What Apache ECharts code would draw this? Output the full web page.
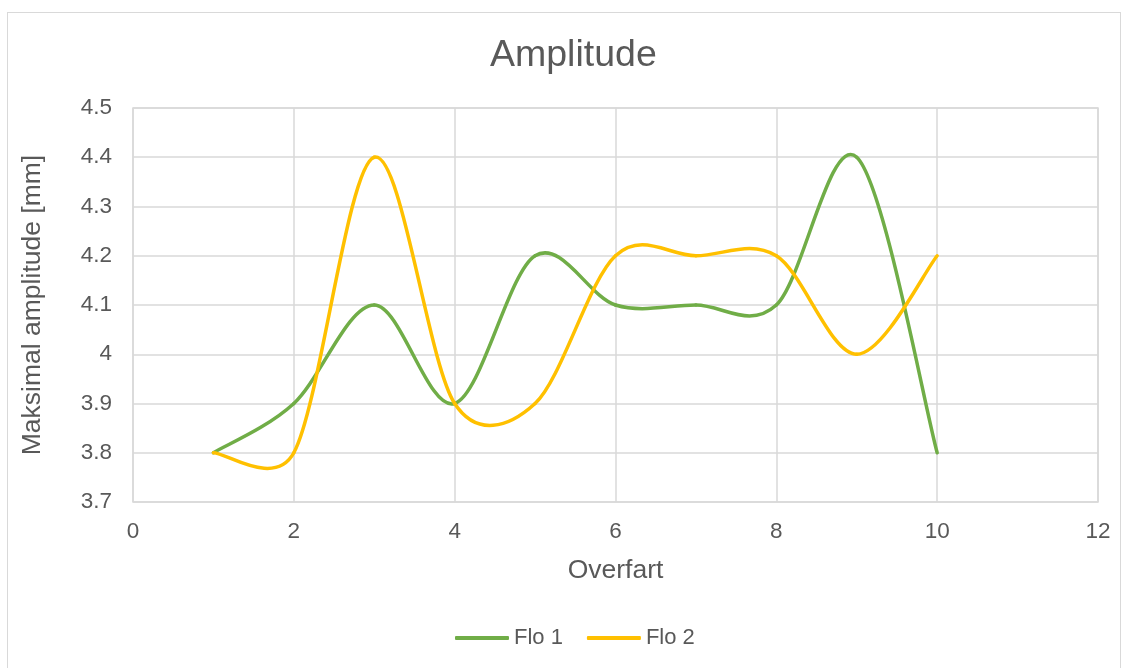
<!DOCTYPE html>
<html>
<head>
<meta charset="utf-8">
<script src="https://cdn.jsdelivr.net/npm/echarts@6/dist/echarts.min.js"></script>
<style>
  html, body { margin: 0; padding: 0; background: #fff; }
  #frame { position: absolute; left: 7px; top: 12px; width: 1114px; height: 670px; border: 1px solid #d9d9d9; box-sizing: border-box; }
  #chart { position: absolute; left: 0; top: 0; width: 1130px; height: 668px; }
</style>
</head>
<body>
<div id="frame"></div>
<div id="chart"></div>
<script>
// Maximum amplitude per crossing for the two runs
const overfart = [1, 2, 3, 4, 5, 6, 7, 8, 9, 10];
const flo1 = [3.8, 3.9, 4.1, 3.9, 4.2, 4.1, 4.1, 4.1, 4.4, 3.8];
const flo2 = [3.8, 3.8, 4.4, 3.9, 3.9, 4.2, 4.2, 4.2, 4.0, 4.2];
const seriesNames = ['Flo 1', 'Flo 2'];
const seriesColors = ['#70ad47', '#ffc000'];

const pairs = (xs, ys) => xs.map((x, i) => [x, ys[i]]);

// Smoothed line: each item draws the cubic segment from point i to i+1.
// Tangents follow the neighbouring points (1/6 of the chord), but are capped
// at half the segment length so short segments do not overshoot too far.
function smoothSegment(xs, ys, color) {
  const dist = (a, b) => Math.hypot(b[0] - a[0], b[1] - a[1]);
  return function (params, api) {
    const i = params.dataIndex;
    const n = xs.length;
    if (i >= n - 1) return null;
    const pt = k => {
      const j = Math.max(0, Math.min(n - 1, k));
      return api.coord([xs[j], ys[j]]);
    };
    const p0 = pt(i - 1), p1 = pt(i), p2 = pt(i + 1), p3 = pt(i + 2);
    const d12 = dist(p1, p2), d02 = dist(p0, p2), d13 = dist(p1, p3);
    let f1 = 1 / 6, f2 = 1 / 6;
    if (d02 / 6 > d12 / 2) f1 = d12 / (2 * d02);
    if (d13 / 6 > d12 / 2) f2 = d12 / (2 * d13);
    return {
      type: 'bezierCurve',
      shape: {
        x1: p1[0], y1: p1[1],
        cpx1: p1[0] + (p2[0] - p0[0]) * f1, cpy1: p1[1] + (p2[1] - p0[1]) * f1,
        cpx2: p2[0] - (p3[0] - p1[0]) * f2, cpy2: p2[1] - (p3[1] - p1[1]) * f2,
        x2: p2[0], y2: p2[1]
      },
      style: { stroke: color, lineWidth: 3.5, fill: null, lineCap: 'round' }
    };
  };
}

const chart = echarts.init(document.getElementById('chart'));
const textColor = '#595959';
const gridColor = '#d9d9d9';
const font = 'Arial, "Liberation Sans", sans-serif';

chart.setOption({
  animation: false,
  backgroundColor: 'transparent',
  title: {
    text: 'Amplitude',
    left: 485,
    top: 32,
    textStyle: { color: textColor, fontSize: 37.5, fontWeight: 'normal', fontFamily: font }
  },
  legend: {
    top: 622,
    left: 450,
    itemWidth: 54,
    itemHeight: 4,
    itemGap: 24,
    icon: 'roundRect',
    textStyle: { color: textColor, fontSize: 22, fontFamily: font },
    data: seriesNames
  },
  grid: { left: 133, right: 32, top: 108, bottom: 166, show: true, borderColor: gridColor, borderWidth: 1.5 },
  xAxis: {
    type: 'value',
    min: 0, max: 12, interval: 2,
    name: 'Overfart',
    nameLocation: 'middle',
    nameGap: 55,
    nameTextStyle: { color: textColor, fontSize: 26.5, fontFamily: font },
    axisLine: { show: false },
    axisTick: { show: false },
    axisLabel: { color: textColor, fontSize: 22.5, fontFamily: font, margin: 18 },
    splitLine: { show: true, lineStyle: { color: gridColor, width: 1.5 } }
  },
  yAxis: {
    type: 'value',
    min: 3.7, max: 4.5, interval: 0.1,
    name: 'Maksimal amplitude [mm]',
    nameLocation: 'middle',
    nameGap: 87,
    nameTextStyle: { color: textColor, fontSize: 26.5, fontFamily: font },
    axisLine: { show: false },
    axisTick: { show: false },
    axisLabel: {
      color: textColor, fontSize: 22.5, fontFamily: font, margin: 21,
      formatter: v => String(parseFloat(v.toFixed(1)))
    },
    splitLine: { show: true, lineStyle: { color: gridColor, width: 1.5 } }
  },
  series: [
    {
      name: seriesNames[0], type: 'custom',
      itemStyle: { color: seriesColors[0] },
      encode: { x: 0, y: 1 },
      renderItem: smoothSegment(overfart, flo1, seriesColors[0]),
      data: pairs(overfart, flo1)
    },
    {
      name: seriesNames[1], type: 'custom',
      itemStyle: { color: seriesColors[1] },
      encode: { x: 0, y: 1 },
      renderItem: smoothSegment(overfart, flo2, seriesColors[1]),
      data: pairs(overfart, flo2)
    }
  ]
});
</script>
</body>
</html>
